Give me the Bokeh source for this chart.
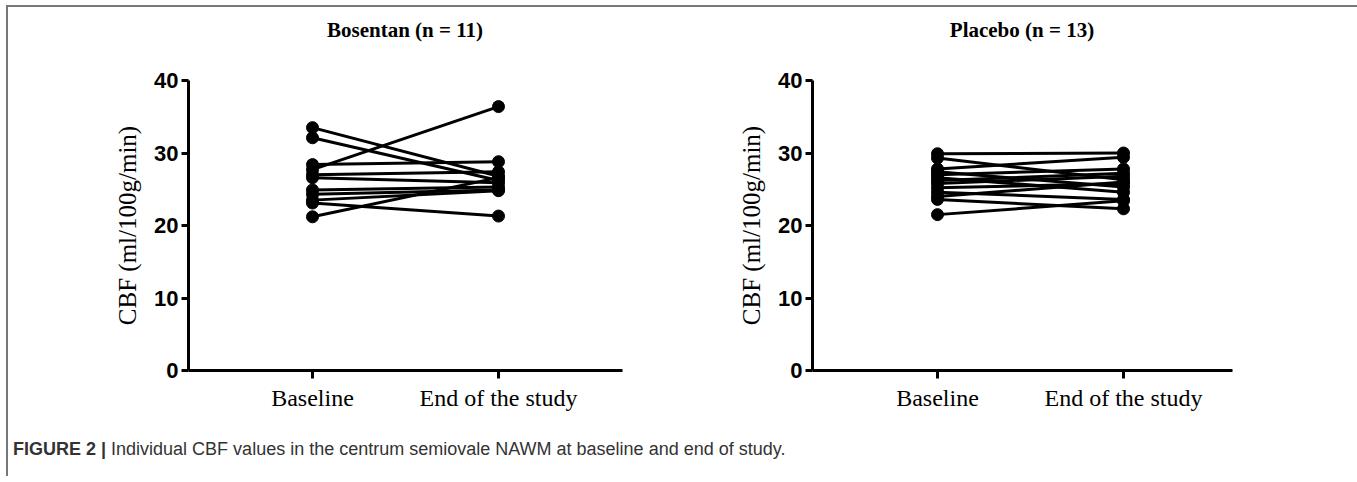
from bokeh.plotting import figure
from bokeh.layouts import row, column
from bokeh.models import ColumnDataSource, FixedTicker, Range1d, Div
from bokeh.embed import file_html
from bokeh.resources import INLINE

# ---- data ----
panel_titles = ["Bosentan (n = 11)", "Placebo (n = 13)"]
time_points = ["Baseline", "End of the study"]
y_ticks = [0, 10, 20, 30, 40]
y_label = "CBF (ml/100g/min)"

bosentan_baseline = [33.5, 32.1, 27.7, 28.4, 27.0, 26.6, 24.9, 24.3, 23.5, 23.1, 21.2]
bosentan_end = [26.8, 26.2, 36.4, 28.8, 27.4, 25.9, 25.3, 24.9, 24.8, 21.3, 26.6]

placebo_baseline = [29.9, 29.3, 27.8, 27.4, 27.0, 26.6, 26.2, 25.8, 25.2, 24.6, 24.0, 23.6, 21.5]
placebo_end = [30.0, 26.3, 29.4, 25.3, 27.8, 24.6, 27.2, 26.8, 25.8, 23.6, 26.0, 22.3, 23.4]

caption_bold = "FIGURE 2 |"
caption_text = "Individual CBF values in the centrum semiovale NAWM at baseline and end of study."

SERIF = "Liberation Serif"
SANS = "Liberation Sans"

TITLE_H = 46


def make_panel(base, end, width, border_left, border_right, x_start, x_end):
    p = figure(width=width, height=411 - TITLE_H, output_backend="svg", toolbar_location=None,
               x_range=Range1d(x_start, x_end), y_range=Range1d(y_ticks[0], y_ticks[-1]),
               min_border_left=border_left, min_border_right=border_right,
               min_border_top=73 - TITLE_H, min_border_bottom=48,
               background_fill_color="white", border_fill_color="white")
    p.outline_line_color = None
    p.grid.visible = False

    n = len(base)
    src = ColumnDataSource(dict(x0=[1] * n, x1=[2] * n, y0=base, y1=end))
    p.segment(x0="x0", y0="y0", x1="x1", y1="y1", source=src,
              line_color="black", line_width=3)
    p.scatter(x="x0", y="y0", source=src, size=12, color="black")
    p.scatter(x="x1", y="y1", source=src, size=12, color="black")

    # y axis
    ya = p.yaxis[0]
    ya.ticker = FixedTicker(ticks=y_ticks)
    ya.axis_line_width = 3
    ya.major_tick_line_width = 3
    ya.major_tick_out = 7
    ya.major_tick_in = 0
    ya.minor_tick_line_color = None
    ya.major_label_text_font = SANS
    ya.major_label_text_font_style = "bold"
    ya.major_label_text_font_size = "22px"
    ya.major_label_text_color = "black"
    ya.major_label_standoff = 3
    ya.axis_label = y_label
    ya.axis_label_text_font = SERIF
    ya.axis_label_text_font_style = "normal"
    ya.axis_label_text_font_size = "25px"
    ya.axis_label_text_color = "black"
    ya.axis_label_standoff = 10

    # x axis
    xa = p.xaxis[0]
    xa.ticker = FixedTicker(ticks=[1, 2])
    xa.major_label_overrides = {1: time_points[0], 2: time_points[1]}
    xa.axis_line_width = 3
    xa.major_tick_line_width = 3
    xa.major_tick_out = 8
    xa.major_tick_in = 0
    xa.minor_tick_line_color = None
    xa.major_label_text_font = SERIF
    xa.major_label_text_font_size = "24px"
    xa.major_label_text_color = "black"
    xa.major_label_standoff = 6
    return p


def title_div(text, frame_w, left_margin):
    return Div(text=text, width=frame_w, height=TITLE_H,
               margin=(0, 0, 0, left_margin),
               styles={"font-family": "'Liberation Serif', serif", "font-weight": "bold",
                       "font-size": "21px", "color": "black", "text-align": "center",
                       "line-height": f"{TITLE_H}px", "white-space": "nowrap"})


p1 = make_panel(bosentan_baseline, bosentan_end, 650, 180, 36, 1 / 3, 8 / 3)
p2 = make_panel(placebo_baseline, placebo_end, 692, 154, 118, 0.328, 2.586)

titles = row(title_div(panel_titles[0], 434, 180),
             title_div(panel_titles[1], 420, 36 + 154))

caption = Div(
    text=f'<span style="font-weight:bold">{caption_bold}</span> {caption_text}',
    width=1342, height=48,
    styles={"font-family": "'Liberation Sans Narrow', 'Liberation Sans', sans-serif",
            "font-size": "18px", "color": "#333333", "padding-left": "0px",
            "padding-top": "14px"})

layout = column(titles, row(p1, p2), caption,
                styles={"border-top": "2px solid #777777",
                        "border-left": "2px solid #777777",
                        "border-right": "2px solid #777777",
                        "margin-top": "5px", "margin-left": "6px"})

open("out.html", "w").write(file_html(layout, INLINE))
